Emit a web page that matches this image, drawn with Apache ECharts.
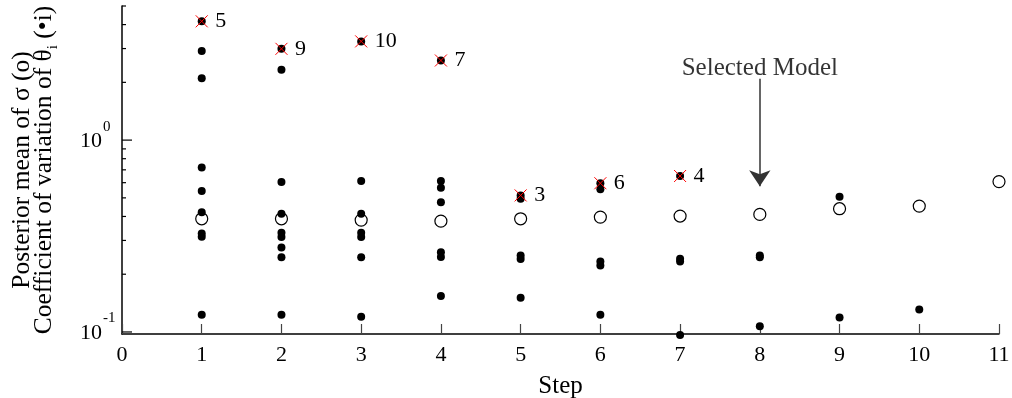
<!DOCTYPE html>
<html><head><meta charset="utf-8">
<script src="https://cdn.jsdelivr.net/npm/echarts@6/dist/echarts.min.js"></script>
<style>html,body{margin:0;padding:0;background:#fff}#c{width:1012px;height:398px}</style>
</head><body><div id="c"></div>
<script>
// ---- data ----
const steps = [1, 2, 3, 4, 5, 6, 7, 8, 9, 10, 11];
const sigmaMean = [0.389, 0.389, 0.383, 0.378, 0.389, 0.397, 0.402, 0.41, 0.439, 0.453, 0.608];
const thetaCovStep1 = [4.16, 2.91, 2.10, 0.72, 0.543, 0.421, 0.326, 0.314, 0.123];
const thetaCovStep2 = [2.99, 2.33, 0.605, 0.413, 0.329, 0.313, 0.276, 0.245, 0.123];
const thetaCovStep3 = [3.27, 0.612, 0.413, 0.329, 0.313, 0.245, 0.12];
const thetaCovStep4 = [2.60, 0.612, 0.565, 0.475, 0.26, 0.246, 0.154];
const thetaCovStep5 = [0.515, 0.495, 0.25, 0.24, 0.151];
const thetaCovStep6 = [0.596, 0.554, 0.233, 0.222, 0.123];
const thetaCovStep7 = [0.65, 0.241, 0.233, 0.0964];
const thetaCovStep8 = [0.25, 0.245, 0.107];
const thetaCovStep9 = [0.507, 0.119];
const thetaCovStep10 = [0.131];
const thetaCovStep11 = [];
const thetaCov = [thetaCovStep1, thetaCovStep2, thetaCovStep3, thetaCovStep4, thetaCovStep5, thetaCovStep6,
                  thetaCovStep7, thetaCovStep8, thetaCovStep9, thetaCovStep10, thetaCovStep11];
const removedSteps = [1, 2, 3, 4, 5, 6, 7];
const removedValues = [4.16, 2.99, 3.27, 2.60, 0.515, 0.596, 0.65];
const removedIds = ['5', '9', '10', '7', '3', '6', '4'];
const yMajorTicks = [0.1, 1];
const yMinorTicks = [0.2, 0.3, 0.4, 0.5, 0.6, 0.7, 0.8, 0.9, 2, 3, 4, 5];
const selectedStep = 8;
const selectedArrow = [2.09, 0.575];
const selectedLabelValue = 2.35;
const selectedLabel = 'Selected Model';

// ---- chart ----
const FONT = 'Liberation Serif';
const chart = echarts.init(document.getElementById('c'), null, {renderer: 'canvas'});

const dotData = [];
thetaCov.forEach((vals, i) => vals.forEach(v => dotData.push([steps[i], v])));

chart.setOption({
  animation: false,
  backgroundColor: '#fff',
  grid: {left: 122, right: 13, top: 6, bottom: 64, containLabel: false, outerBoundsMode: 'none'},
  xAxis: {
    type: 'value', min: 0, max: 11, interval: 1,
    axisLine: {lineStyle: {color: '#000', width: 1.5}},
    axisTick: {inside: true, length: 10, lineStyle: {color: '#444', width: 1.2}},
    axisLabel: {margin: 10, fontSize: 22, fontFamily: FONT, color: '#000'},
    splitLine: {show: false},
    name: 'Step', nameLocation: 'middle', nameGap: 40,
    nameTextStyle: {fontSize: 25, fontFamily: FONT, color: '#000'}
  },
  yAxis: {
    type: 'log', logBase: 10, min: 0.0976, max: 5,
    axisLine: {show: true, lineStyle: {color: '#000', width: 1.5}},
    axisTick: {show: false},
    splitLine: {show: false},
    axisLabel: {
      margin: 42, align: 'left', padding: [0, 0, 9, 0],
      formatter: function (v) {
        const e = Math.log10(v); const r = Math.round(e);
        if (Math.abs(e - r) > 1e-4) return '';
        return '{b|10}{s|' + r + '}';
      },
      rich: {
        b: {fontSize: 22, fontFamily: FONT, color: '#000', lineHeight: 33, verticalAlign: 'bottom'},
        s: {fontSize: 15, fontFamily: FONT, color: '#000', lineHeight: 15, verticalAlign: 'top', padding: [0, 0, 0, 1]}
      }
    },
    name: '{a|Posterior mean of σ (o)}\n{c|Coefficient of variation of θ}{sub|i}{c| (•i)}',
    nameLocation: 'middle', nameRotate: 90, nameGap: 61,
    nameTextStyle: {
      fontSize: 25, fontFamily: FONT, color: '#000',
      rich: {
        a: {fontSize: 25.5, fontFamily: FONT, color: '#000', lineHeight: 18},
        c: {fontSize: 25.5, fontFamily: FONT, color: '#000', lineHeight: 21, verticalAlign: 'top'},
        sub: {fontSize: 15, fontFamily: FONT, color: '#000', lineHeight: 30, verticalAlign: 'bottom'}
      }
    }
  },
  series: [
    {
      type: 'custom', coordinateSystem: 'cartesian2d', silent: true, clip: false, z: 1,
      data: yMinorTicks.map(v => [0, v, 4]).concat(yMajorTicks.map(v => [0, v, 10])),
      renderItem: function (params, api) {
        const p = api.coord([api.value(0), api.value(1)]);
        const len = api.value(2);
        return {type: 'line', shape: {x1: p[0], y1: p[1], x2: p[0] + len, y2: p[1]},
                style: {stroke: '#000', lineWidth: 1.2}};
      }
    },
    {
      name: 'sigma', type: 'scatter', clip: false, z: 2,
      data: steps.map((s, i) => [s, sigmaMean[i]]),
      symbol: 'circle', symbolSize: 12,
      itemStyle: {color: 'rgba(0,0,0,0)', borderColor: '#000', borderWidth: 1.2, opacity: 1}
    },
    {
      name: 'theta', type: 'scatter', clip: false, z: 3,
      data: dotData, symbol: 'circle', symbolSize: 8,
      itemStyle: {color: '#000', opacity: 1},
      markLine: {
        silent: true, symbol: ['none', 'arrow'], symbolSize: 16,
        lineStyle: {color: '#333', width: 1.5, type: 'solid', opacity: 1},
        label: {show: false},
        data: [[{coord: [selectedStep, selectedArrow[0]]}, {coord: [selectedStep, selectedArrow[1]]}]]
      }
    },
    {
      name: 'removed', type: 'scatter', clip: false, z: 4,
      data: removedSteps.map((s, i) => [s, removedValues[i]]),
      symbol: 'path://M0,0L10,10M10,0L0,10', symbolSize: 12,
      itemStyle: {color: 'rgba(0,0,0,0)', borderColor: '#ff0000', borderWidth: 1, opacity: 1},
      label: {
        show: true, position: 'right', distance: 7,
        formatter: p => removedIds[p.dataIndex],
        fontSize: 22, fontFamily: FONT, color: '#000'
      }
    },
    {
      name: 'selected', type: 'scatter', clip: false, z: 5, silent: true,
      data: [[selectedStep, selectedLabelValue]],
      symbol: 'circle', symbolSize: 1,
      itemStyle: {color: 'rgba(0,0,0,0)'},
      label: {show: true, position: 'inside', formatter: selectedLabel,
              fontSize: 25, fontFamily: FONT, color: '#000'}
    }
  ]
});
</script>
</body></html>
